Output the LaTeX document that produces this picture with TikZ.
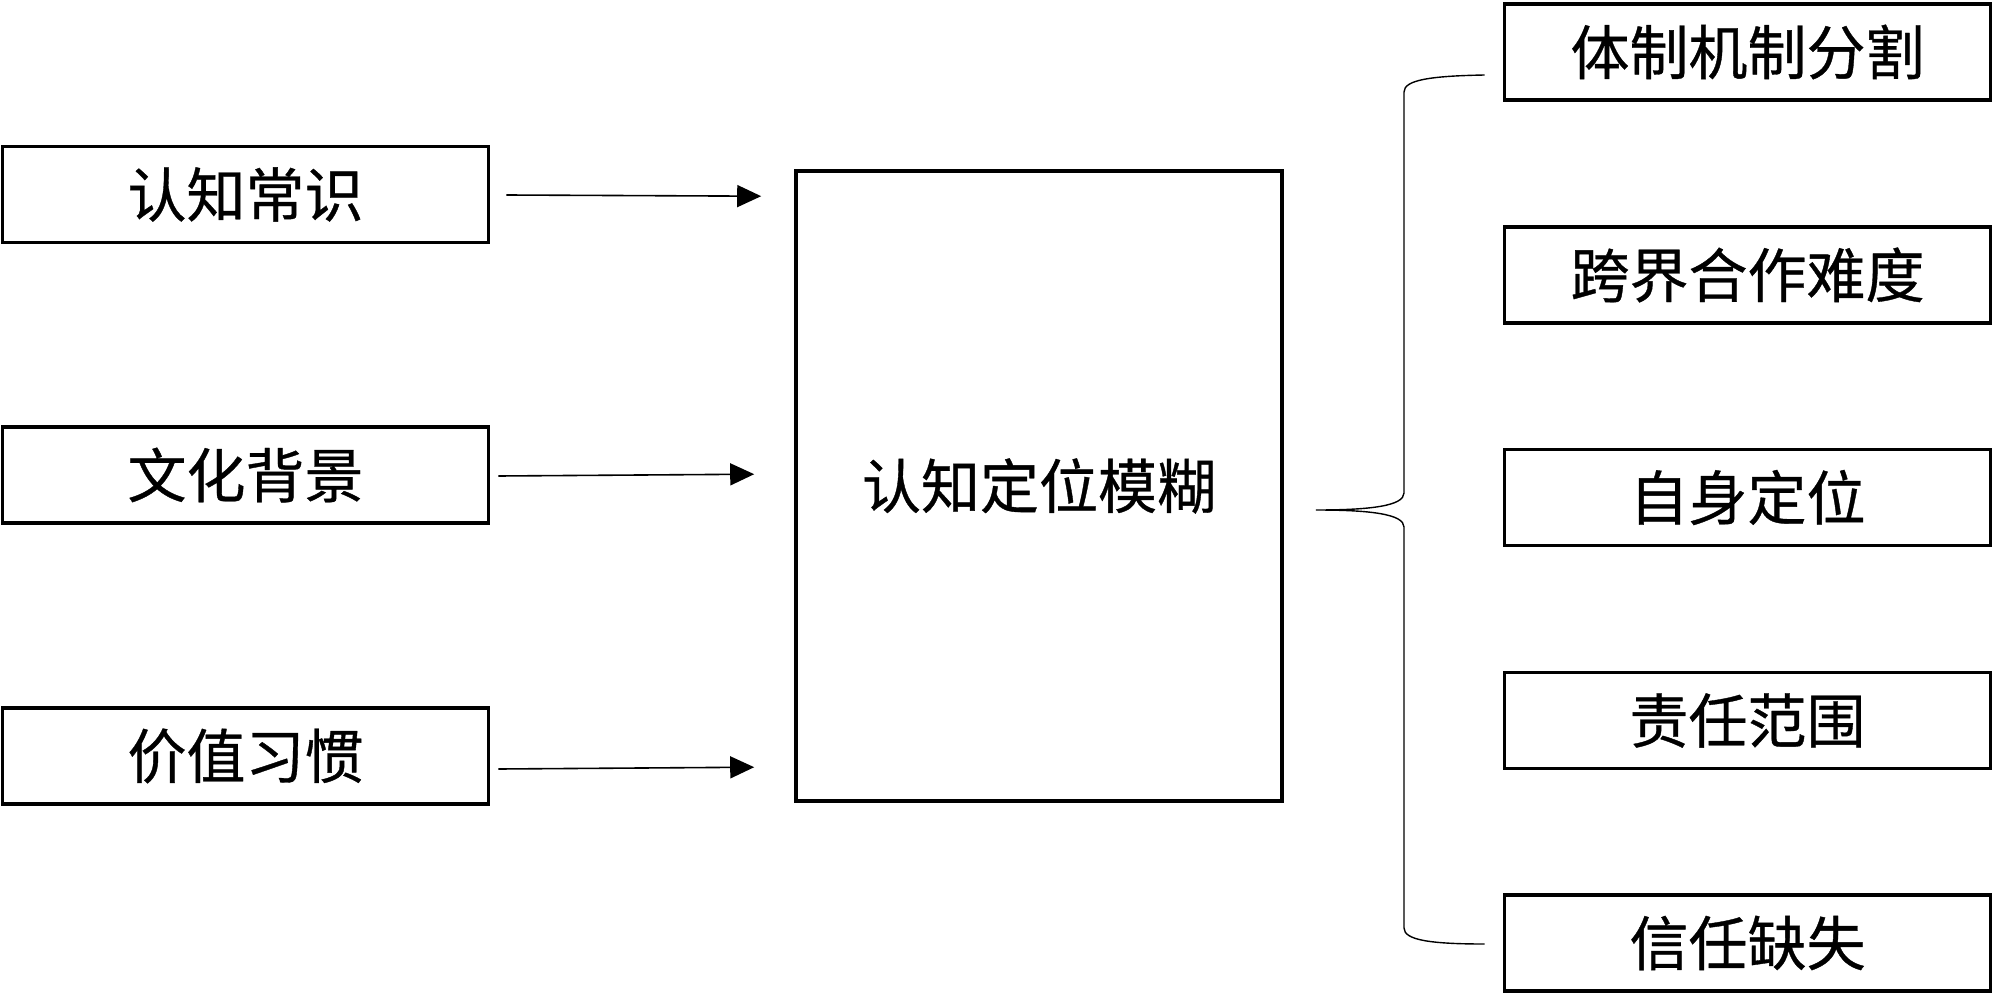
\documentclass[tikz,border=0pt]{standalone}
\usepackage{fontspec}
\setmainfont{Noto Sans CJK SC}[FakeBold=0.6]
\usetikzlibrary{arrows.meta,calc}
\newcommand{\lowtxt}[1]{\raisebox{-2.5pt}{#1}}
\begin{document}
\begin{tikzpicture}[x=0.5pt,y=-0.5pt,
  box/.style={draw=black,line width=1.8pt,inner sep=0pt,minimum width=243pt,minimum height=48pt,
    font=\fontsize{29.5pt}{32pt}\selectfont},
  bigbox/.style={box,minimum height=315pt},
  arr/.style={line width=0.8pt,-{Triangle[length=12pt,width=11pt]}},
  bracestyle/.style={line width=0.7pt}]
\useasboundingbox (0,0) rectangle (2000,1000);
% left boxes
\node[box] (l1) at (245.5,194.5) {\lowtxt{认知常识}};
\node[box] (l2) at (245.5,475) {\lowtxt{文化背景}};
\node[box] (l3) at (245.5,756) {\lowtxt{价值习惯}};
% center
\node[bigbox] (c) at (1039,486) {\lowtxt{认知定位模糊}};
% right boxes
\node[box] (r1) at (1747.5,52) {\lowtxt{体制机制分割}};
\node[box] (r2) at (1747.5,275) {\lowtxt{跨界合作难度}};
\node[box] (r3) at (1747.5,497.5) {\lowtxt{自身定位}};
\node[box] (r4) at (1747.5,720.5) {\lowtxt{责任范围}};
\node[box] (r5) at (1747.5,943) {\lowtxt{信任缺失}};
% arrow end points
\coordinate (a1s) at ($(l1.east)+(16,0.5)$);
\coordinate (a1e) at ($(c.north west)+(-33,27)$);
\coordinate (a2s) at ($(l2.east)+(8,1)$);
\coordinate (a2e) at ($(c.north west)+(-40,305)$);
\coordinate (a3s) at ($(l3.east)+(8,13)$);
\coordinate (a3e) at ($(c.north west)+(-40,598)$);
\draw[arr] (a1s) -- (a1e);
\draw[arr] (a2s) -- (a2e);
\draw[arr] (a3s) -- (a3e);
% brace
\coordinate (bt) at ($(c.east)+(32,24)$);
\coordinate (btop) at ($(r1.west)+(-18,23)$);
\coordinate (bbot) at ($(r5.west)+(-18,1)$);
\draw[bracestyle] (btop) .. controls (1430,76) and (1404,80) .. (1404,92)
  -- (1404,493) .. controls (1404,506) and (1370,510) .. (bt)
  .. controls (1370,510) and (1404,514) .. (1404,527)
  -- (1404,928) .. controls (1404,940) and (1430,944) .. (bbot);
\end{tikzpicture}
\end{document}
